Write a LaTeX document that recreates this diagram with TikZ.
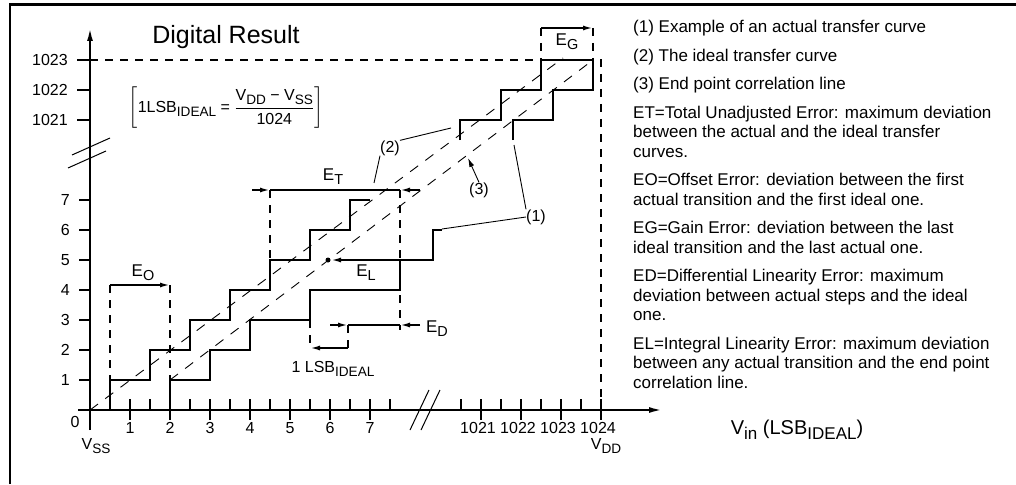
\documentclass[tikz,border=0pt]{standalone}
\usepackage{amsmath}
\usepackage{graphicx}
\usepackage{fontspec}
\setmainfont{Liberation Sans}
\usetikzlibrary{arrows.meta}
\newcommand{\lo}[1]{\raisebox{-0.45ex}{\scalebox{0.85}{#1}}}
\tikzset{
  axis/.style={line width=2pt,-{Latex[length=13pt,width=6pt]}},
  stair/.style={line width=2pt},
  guide/.style={line width=2pt,dash pattern=on 8pt off 7pt},
  refline/.style={line width=0.9pt,dash pattern=on 10pt off 9pt},
  dimline/.style={line width=1.8pt},
  dimarrow/.style={dimline,-{Latex[length=10pt,width=5pt]}},
  leader/.style={line width=0.9pt},
  lbl/.style={inner sep=0pt,font=\fontsize{16}{19}\selectfont},
  elbl/.style={inner sep=0pt,font=\fontsize{17}{20}\selectfont},
}

\begin{document}
\begin{tikzpicture}[x=1pt,y=-1pt]
  \useasboundingbox (0,0) rectangle (1016,484);
  \draw[line width=2.2pt] (10,484) -- (10,4.5) -- (1016,4.5);

  % axes and breaks
  \draw[axis] (90,430) -- (90,28);
  \draw[axis] (78,410) -- (662,410);
  \draw[line width=1pt] (72,155) -- (110,138) (68,168) -- (106,151);
  \draw[line width=1pt] (410,430) -- (429,390) (421,430) -- (440,390);

  % y ticks
  \foreach \n in {1,...,7}
  {
    \draw[stair] (79,{410-30*\n}) -- (90,{410-30*\n});
    \node[lbl,anchor=east] at (70,{410-30*\n}) {\n};
  }
  \foreach \v/\y in {1021/120,1022/90,1023/60}
  {
    \draw[stair] (77,\y) -- (90,\y);
    \node[lbl,anchor=east] at (68,\y) {\v};
  }
  % x ticks
  \foreach \n in {1,...,7}
  {
    \draw[stair] ({90+40*\n},399) -- ({90+40*\n},420);
    \node[lbl,anchor=north] at ({90+40*\n},422) {\n};
  }
  \foreach \n in {0,...,7}
    \draw[stair] ({110+40*\n},399) -- ({110+40*\n},410);
  \foreach \v/\x in {1021/481,1022/521,1023/561,1024/601}
  {
    \draw[stair] (\x,399) -- (\x,420);
    \draw[stair] ({\x-20},399) -- ({\x-20},410);
    \node[lbl,anchor=north] at ({\x-3},422) {\v};
  }
  \node[lbl] (zero) at (75,422) {0};
  \node[lbl] (vss) at (96,446) {V\lo{SS}};
  \node[lbl] (vdd) at (606,446) {V\lo{DD}};

  % ideal transfer curve (2)
  \draw[stair] (110,410) -- (110,380) -- (150,380) -- (150,350) -- (190,350) -- (190,320)
    -- (230,320) -- (230,290) -- (270,290) -- (270,260) -- (310,260) -- (310,230)
    -- (350,230) -- (350,200) -- (370,200);
  \draw[stair] (460,140) -- (460,120) -- (501,120) -- (501,90) -- (541,90) -- (541,60) -- (593,60);
  % actual transfer curve (1)
  \draw[stair] (170,410) -- (170,380) -- (210,380) -- (210,350) -- (250,350) -- (250,320)
    -- (310,320) -- (310,290) -- (400,290) -- (400,260) -- (433,260) -- (433,230) -- (442,230);
  \draw[stair] (513,140) -- (513,120) -- (553,120) -- (553,90) -- (593,90) -- (593,60);

  % ideal line and end point correlation line (3)
  \draw[refline] (90,410) -- (563,58);
  \draw[refline] (170,380) -- (593,60);

  % dashed guides
  \draw[guide] (90,60) -- (601,60) -- (601,410);
  \draw[guide] (110,285) -- (110,380);
  \draw[guide] (170,285) -- (170,380);
  \draw[guide] (270,190) -- (270,260);
  \draw[guide] (400,190) -- (400,330);
  \draw[guide] (310,320) -- (310,348);
  \draw[guide] (348,325) -- (348,348);
  \draw[guide] (541,28) -- (541,60);
  \draw[guide] (593,28) -- (593,60);

  % error arrows
  \draw[dimarrow] (110,285) -- (170,285);
  \node[elbl] (eo) at (143,273) {E\lo{O}};
  \coordinate (et1) at (270,190);
  \coordinate (et2) at (400,190);
  \draw[dimarrow] (252,190) -- (et1);
  \draw[dimline] (et1) -- (et2);
  \draw[dimarrow] (420,190) -- (et2);
  \node[elbl] (et) at (333,177) {E\lo{T}};
  \fill (328,260) circle (2.5);
  \draw[dimarrow,{Latex[length=10pt,width=5pt]}-] (331,260) -- (400,260);
  \node[elbl] (el) at (366,273) {E\lo{L}};
  \coordinate (ed1) at (348,325);
  \coordinate (ed2) at (400,325);
  \draw[dimarrow] (330,325) -- (ed1);
  \draw[dimline] (ed1) -- (ed2);
  \draw[dimarrow] (420,325) -- (ed2);
  \node[elbl] (ed) at (437,329) {E\lo{D}};
  \draw[dimarrow,{Latex[length=10pt,width=5pt]}-] (310,348) -- (348,348);
  \node[lbl] (lsbone) at (333,369) {1 LSB\lo{IDEAL}};
  \draw[dimarrow] (541,28) -- (593,28);
  \node[elbl] (eg) at (567,42) {E\lo{G}};

  % callouts
  \node[lbl] (c1) at (536,217) {(1)};
  \node[lbl] (c2) at (390,148) {(2)};
  \node[lbl] (c3) at (479,190) {(3)};
  \draw[leader] (c1.west) -- (442,229);
  \draw[leader] (c1.north west) -- (514,145);
  \draw[leader] (c2.north east) -- (451,128);
  \draw[leader] (c2.south west) -- (374,183);
  \draw[leader,-{Latex[length=9pt,width=5pt]}] (c3.north) -- (468,158);

  % titles
  \node[inner sep=0pt,font=\fontsize{25}{30}\selectfont] (title) at (226,37) {Digital Result};
  \node[inner sep=0pt,font=\fontsize{16}{19}\selectfont] (lsbdef) at (226,108)
    {$\left[\mbox{1LSB\lo{IDEAL} = }\dfrac{\mbox{V\lo{DD} − V\lo{SS}}}{\mbox{1024}}\right]$};
  \node[inner sep=0pt,font=\fontsize{20}{24}\selectfont] (vin) at (797,430) {V\lo{in} (LSB\lo{IDEAL})};

  % legend
  \node[lbl,font=\fontsize{17}{19.5}\selectfont,anchor=north west,align=left] (legend) at (633,20)
    {(1) Example of an actual transfer curve\\[9pt]
     (2) The ideal transfer curve\\[9pt]
     (3) End point correlation line\\[9pt]
     ET=Total Unadjusted Error: maximum deviation\\
     between the actual and the ideal transfer\\
     curves.\\[9pt]
     EO=Offset Error: deviation between the first\\
     actual transition and the first ideal one.\\[9pt]
     EG=Gain Error: deviation between the last\\
     ideal transition and the last actual one.\\[9pt]
     ED=Differential Linearity Error: maximum\\
     deviation between actual steps and the ideal\\
     one.\\[9pt]
     EL=Integral Linearity Error: maximum deviation\\
     between any actual transition and the end point\\
     correlation line.};
\end{tikzpicture}
\end{document}
